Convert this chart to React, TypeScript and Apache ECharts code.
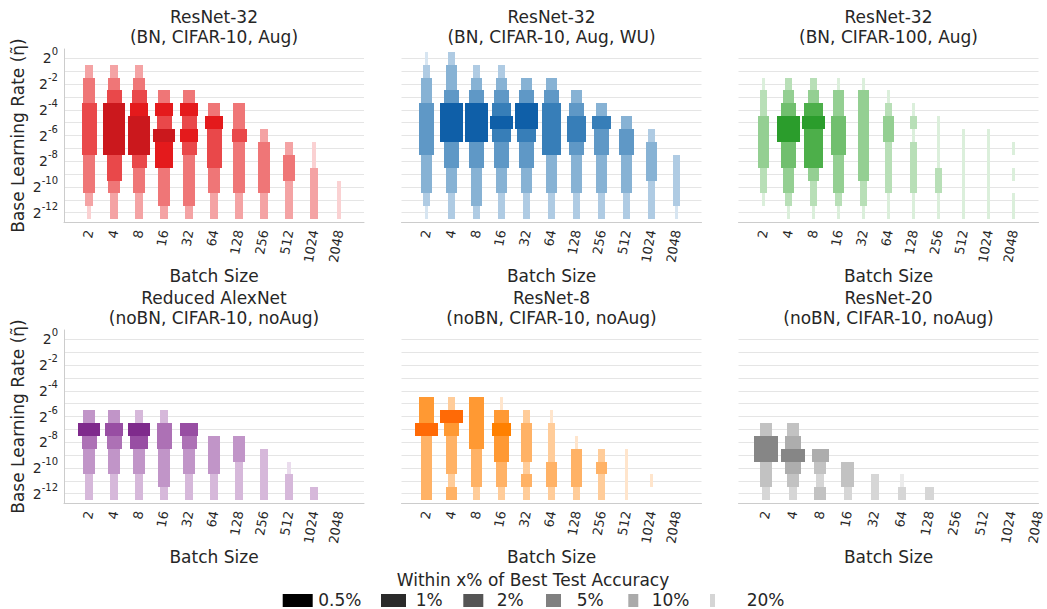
import React, { useEffect, useRef } from 'react';
import * as echarts from 'echarts';

// ---------- data ----------
const batchSizes = ['2', '4', '8', '16', '32', '64', '128', '256', '512', '1024', '2048'];
const lrExponents = [0, -1, -2, -3, -4, -5, -6, -7, -8, -9, -10, -11, -12];
const lrLabelExponents = [0, -2, -4, -6, -8, -10, -12];
const levelNames = ['0.5%', '1%', '2%', '5%', '10%', '20%'];

// One string per batch size; one char per learning rate 2^0 ... 2^-12.
// '.' = not within 20%, otherwise index into levelNames.
const resnet32C10Aug = [
  '.433222233345',
  '.432000022344',
  '.432100023344',
  '...3120113334',
  '...3121233334',
  '....312223344',
  '....332333344',
  '......4333344',
  '.......433444',
  '.......554444',
  '..........555',
];
const resnet32C10AugWU = [
  '5433222233345',
  '4332000223344',
  '.432000223334',
  '.432101223344',
  '..32001223344',
  '..32111133344',
  '...3211233344',
  '....312233344',
  '.....32233344',
  '......4333444',
  '........44445',
];
const resnet32C100Aug = [
  '..5443333445.',
  '..43200223345',
  '..43101113445',
  '..53322233345',
  '..53333333445',
  '...5433444455',
  '....545444455',
  '.....55554455',
  '......5555555',
  '......5555555',
  '.......5.5.55',
];
const alexnetNoBN = [
  '......3023344',
  '......3123344',
  '......4013344',
  '......4223334',
  '.......123344',
  '........33344',
  '........33444',
  '.........4444',
  '..........544',
  '............4',
  '.............',
];
const resnet8NoBN = [
  '.....22033333',
  '.....40233343',
  '.....22223334',
  '.....52122334',
  '......4333434',
  '......5444334',
  '........53334',
  '.........4344',
  '.........5555',
  '...........5.',
  '.............',
];
const resnet20NoBN = [
  '.......300334',
  '.......320234',
  '.........2343',
  '..........334',
  '...........44',
  '...........54',
  '............4',
  '.............',
  '.............',
  '.............',
  '.............',
];

const panelTitles = [
  'ResNet-32\n(BN, CIFAR-10, Aug)',
  'ResNet-32\n(BN, CIFAR-10, Aug, WU)',
  'ResNet-32\n(BN, CIFAR-100, Aug)',
  'Reduced AlexNet\n(noBN, CIFAR-10, noAug)',
  'ResNet-8\n(noBN, CIFAR-10, noAug)',
  'ResNet-20\n(noBN, CIFAR-10, noAug)',
];

// ---------- styles ----------
const palettes = [
  ['#cb181d', '#e41a1c', '#e9484a', '#ef7677', '#f4a3a4', '#fad1d2'],
  ['#0f5fa8', '#377eb8', '#5f98c6', '#87b2d4', '#afcbe3', '#d7e5f1'],
  ['#2b9d2c', '#4daf4a', '#71bf6e', '#94cf92', '#b8dfb7', '#dbefdb'],
  ['#7f2a8c', '#984ea3', '#ad71b5', '#c195c8', '#d6b8da', '#eadced'],
  ['#ff6a06', '#ff8000', '#ff9933', '#ffb266', '#ffcc99', '#ffe5cc'],
  ['#868686', '#999999', '#adadad', '#c2c2c2', '#d6d6d6', '#ebebeb'],
];
const legendColors = ['#000000', '#2a2a2a', '#555555', '#808080', '#aaaaaa', '#d5d5d5'];
const barWidths = [0.9, 0.75, 0.6, 0.45, 0.3, 0.15];
const TEXT = '#262626';

function toPoints(rows: string[]) {
  const out: number[][] = [];
  rows.forEach((row, i) => {
    for (let j = 0; j < row.length; j++) {
      const c = row[j];
      if (c !== '.') out.push([i, lrExponents[j], Number(c)]);
    }
  });
  return out;
}

export default function App() {
  const ref = useRef<HTMLDivElement>(null);
  useEffect(() => {
    if (!ref.current) return;
    const chart = echarts.init(ref.current, undefined, { renderer: 'svg' });
    const panelData = [resnet32C10Aug, resnet32C10AugWU, resnet32C100Aug, alexnetNoBN, resnet8NoBN, resnet20NoBN];
    const colLeft = [64, 401.5, 738.5];
    const rowTop = [49, 330];
    const W = 300;
    const H = 173;
    const grids: any[] = [];
    const xAxes: any[] = [];
    const yAxes: any[] = [];
    const series: any[] = [];
    const titles: any[] = [];
    panelData.forEach((rows, k) => {
      const col = k % 3;
      const row = Math.floor(k / 3);
      grids.push({ left: colLeft[col], top: rowTop[row], width: W, height: H });
      const xMax = k === 5 ? 10 : 11;
      xAxes.push({
        gridIndex: k,
        type: 'value',
        min: -1,
        max: xMax,
        interval: 1,
        axisLine: { show: true, onZero: false, lineStyle: { color: '#cccccc', width: 1 } },
        axisTick: { show: false },
        splitLine: { show: false },
        axisLabel: {
          formatter: (v: number) => (v >= 0 && v < batchSizes.length ? batchSizes[v] : ''),
          rotate: 80,
          align: 'right',
          verticalAlign: 'middle',
          fontSize: 13,
          color: TEXT,
          margin: 8,
          showMinLabel: true,
          showMaxLabel: true,
        },
        name: 'Batch Size',
        nameLocation: 'middle',
        nameGap: 44,
        nameTextStyle: { fontSize: 17, color: TEXT },
      });
      yAxes.push({
        gridIndex: k,
        type: 'value',
        min: -12.72,
        max: 0.72,
        axisLine: { show: col === 0, onZero: false, lineStyle: { color: '#cccccc', width: 1 } },
        axisTick: { show: false, customValues: lrExponents },
        splitLine: { show: true, lineStyle: { color: '#e5e5e5', width: 1 } },
        axisLabel: {
          show: col === 0,
          customValues: lrLabelExponents,
          formatter: (v: number) => `{b|2}{s|${v}}`,
          rich: {
            b: { fontSize: 14, color: TEXT },
            s: { fontSize: 10, color: TEXT, padding: [0, 0, 13, 0] },
          },
          margin: 6,
        },
        name: col === 0 ? 'Base Learning Rate (η\u0303)' : '',
        nameLocation: 'middle',
        nameGap: 38,
        nameTextStyle: { fontSize: 17, color: TEXT },
      });
      const colors = palettes[k];
      series.push({
        type: 'custom',
        xAxisIndex: k,
        yAxisIndex: k,
        silent: true,
        encode: { x: 0, y: 1 },
        data: toPoints(rows),
        renderItem: (params: any, api: any) => {
          const x = api.value(0);
          const e = api.value(1);
          const lvl = api.value(2);
          const w = barWidths[lvl];
          const p1 = api.coord([x - w / 2, e + 0.5]);
          const p2 = api.coord([x + w / 2, e - 0.5]);
          const x1 = Math.round(p1[0]);
          const x2 = Math.round(p2[0]);
          const y1 = Math.round(p1[1]);
          const y2 = Math.round(p2[1]);
          return {
            type: 'rect',
            shape: { x: x1, y: y1, width: x2 - x1, height: y2 - y1 },
            style: { fill: colors[lvl] },
          };
        },
      });
      titles.push({
        text: panelTitles[k],
        left: colLeft[col] + W / 2,
        top: row === 0 ? 7 : 288,
        textAlign: 'center',
        padding: 0,
        textStyle: { fontSize: 17, fontWeight: 'normal', color: TEXT, lineHeight: 20 },
      });
    });

    // legend drawn as graphic
    const patchLefts = [282.7, 381, 463.3, 546, 628.3, 710];
    const textLefts = [318.3, 415.7, 496.7, 576.7, 651.7, 746.7];
    const graphic: any[] = [
      {
        type: 'text',
        x: 533,
        y: 580,
        style: {
          text: 'Within x% of Best Test Accuracy',
          fontSize: 17,
          fill: TEXT,
          align: 'center',
          verticalAlign: 'middle',
          fontFamily: 'DejaVu Sans',
        },
      },
    ];
    levelNames.forEach((name, i) => {
      const pw = (30 * barWidths[i]) / 0.9;
      graphic.push({
        type: 'rect',
        shape: { x: patchLefts[i], y: 594, width: pw, height: 13 },
        style: { fill: legendColors[i] },
      });
      graphic.push({
        type: 'text',
        x: textLefts[i],
        y: 600,
        style: {
          text: name,
          fontSize: 17,
          fill: TEXT,
          align: 'left',
          verticalAlign: 'middle',
          fontFamily: 'DejaVu Sans',
        },
      });
    });

    chart.setOption({
      animation: false,
      backgroundColor: '#ffffff',
      textStyle: { fontFamily: 'DejaVu Sans' },
      title: titles,
      grid: grids,
      xAxis: xAxes,
      yAxis: yAxes,
      series,
      graphic,
    });
    return () => chart.dispose();
  }, []);
  return (
    <div
      ref={ref}
      style={{ position: 'absolute', left: 0, top: 0, width: 1047, height: 609 }}
    />
  );
}
